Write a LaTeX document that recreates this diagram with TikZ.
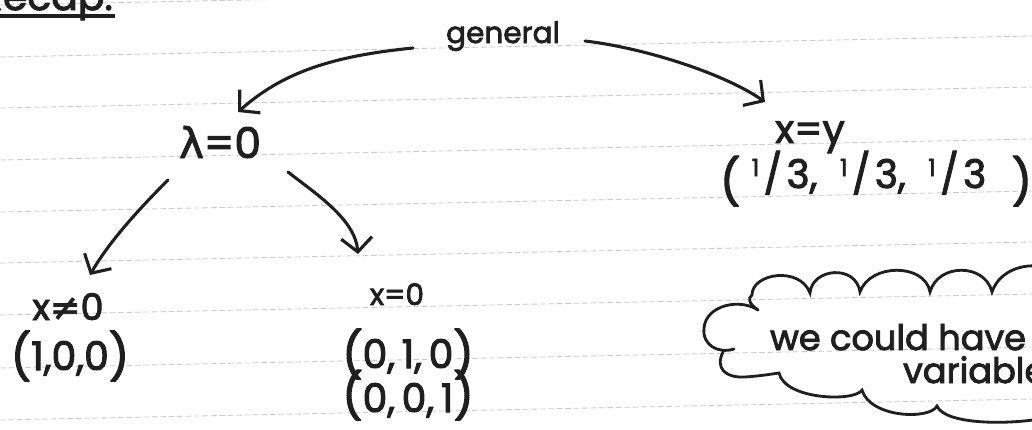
\documentclass[tikz,border=0pt]{standalone}
\usepackage{fontspec}
\setmainfont{Poppins}[FakeBold=2.5]
\newfontfamily\symfont{DejaVu Sans}[FakeBold=2]
\usetikzlibrary{arrows.meta}

\definecolor{ink}{gray}{0.12}
\newcommand\inksize[1]{\fontsize{#1}{#1}\selectfont}
\newcommand\bigparen[2]{\raisebox{-#1}{\inksize{32pt}#2}}
\newcommand\third{\raisebox{.3em}{\inksize{17pt}1}\kern3pt/\kern3pt3}

\tikzset{
  handtext/.style={
    inner sep=2pt, text=ink, anchor=base
  },
  inkarrow/.style={
    -{Straight Barb[length=10pt,width=22pt]}, line width=2.2pt,
    draw=ink, line cap=round, line join=round
  },
  cloudline/.style={
    draw=ink, line width=2pt, line cap=round
  },
  ruleline/.style={
    draw=gray!40, line width=0.6pt, dash pattern=on 4pt off 2pt
  },
}

\begin{document}
\begin{tikzpicture}[x=0.025cm, y=-0.025cm]
  \useasboundingbox (0,0) rectangle (1032,429);
  \clip (0,0) rectangle (1032,429);
  \fill[white] (0,0) rectangle (1032,429);

  % ruled paper
  \foreach \ly in {5,57,108,160,212,263,315,368,420}
    \draw[ruleline] (0,\ly) -- (1032,\ly-21);

  % heading, cut at the top
  \node[handtext, font=\inksize{28pt}, anchor=base east] (recap) at (116,10) {Recap:};
  \draw[draw=ink, line width=2.4pt] (0,16) -- (115,16);

  % the tree
  \node[handtext, font=\inksize{21pt}] (general) at (503,43) {general};
  \node[handtext, font=\inksize{30pt}] (lam) at (220,158) {{\symfont λ}=0};
  \node[handtext, font=\inksize{28pt}] (xy) at (810,143) {x=y};
  \node[handtext, font=\inksize{28pt}] (thirds) at (876,188)
    {\bigparen{7pt}{(}\kern8pt\third,\hspace{16pt}\third,\hspace{16pt}\third\hspace{18pt}\bigparen{7pt}{)}};
  \node[handtext, font=\inksize{26pt}] (neq) at (68,320) {x{\symfont ≠}0};
  \node[handtext, font=\inksize{28pt}] (p100) at (70,370)
    {\bigparen{2pt}{(}1,0,0\bigparen{2pt}{)}};
  \node[handtext, font=\inksize{21pt}] (xzero) at (397,305) {x=0};
  \node[handtext, font=\inksize{28pt}] (p010) at (408,368)
    {\bigparen{2pt}{(}0,\,1,\,0\bigparen{2pt}{)}};
  \node[handtext, font=\inksize{28pt}] (p001) at (408,412)
    {\bigparen{0pt}{(}0,\,0,\,1\bigparen{0pt}{)}};

  % the cloud on the right
  \draw[cloudline] (758,310) .. controls (740,298) and (706,305) .. (704,328)
    .. controls (702,345) and (718,354) .. (734,349);
  \draw[cloudline] (758,310) .. controls (748,303) and (748,298) .. (752,295)
    .. controls (752,273) and (800,266) .. (810,293)
    .. controls (812,268) and (856,264) .. (860,292)
    .. controls (870,263) and (925,263) .. (930,292)
    .. controls (938,263) and (985,263) .. (992,292)
    .. controls (1000,268) and (1030,262) .. (1045,268);
  \draw[cloudline] (723,352) .. controls (715,368) and (725,378) .. (745,377)
    .. controls (760,376) and (772,374) .. (779,373)
    .. controls (785,400) and (855,402) .. (862,390)
    .. controls (870,418) and (930,420) .. (937,406)
    .. controls (945,425) and (1010,425) .. (1045,418);
  \node[handtext, font=\inksize{25pt}, anchor=base west] (could) at (767,350) {we could have};
  \node[handtext, font=\inksize{25pt}, anchor=base west] (vars) at (900,383) {variable};

  % arrows
  \draw[inkarrow] ([shift={(-90,5)}]general.base)
    .. controls +(-80,8) and +(45,-40) .. ([shift={(18,-46)}]lam.base);
  \draw[inkarrow] ([shift={(82,-2)}]general.base)
    .. controls +(60,7) and +(-40,-28) .. ([shift={(-45,-41)}]xy.base);
  \draw[inkarrow] ([shift={(-52,22)}]lam.base)
    .. controls +(-25,25) and +(20,-35) .. ([shift={(22,-45)}]neq.base);
  \draw[inkarrow] ([shift={(68,14)}]lam.base)
    .. controls +(28,22) and +(-3,-35) .. ([shift={(-39,-51)}]xzero.base);
\end{tikzpicture}
\end{document}
